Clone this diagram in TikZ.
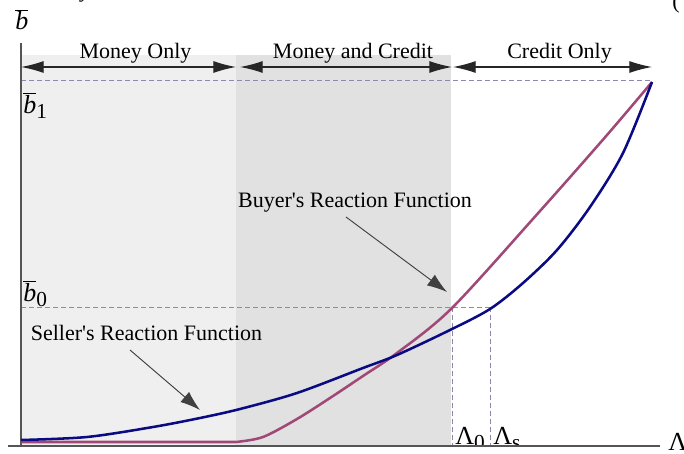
\documentclass[tikz,border=0pt]{standalone}
\usepackage{fontspec}
\setmainfont{Liberation Serif}
\usetikzlibrary{arrows.meta}

\definecolor{buyer}{HTML}{A04878}
\definecolor{seller}{HTML}{0A0A82}
\definecolor{zoneA}{HTML}{EFEFEF}
\definecolor{zoneB}{HTML}{E1E1E1}
\definecolor{guidec}{HTML}{8A8AAE}
\definecolor{axisc}{HTML}{555555}

% barred italic b and a lowered subscript
\newcommand\barb{$\overline{\mbox{\itshape b}}$}
\newcommand\lowsub[1]{\raisebox{-0.22em}{\fontsize{16}{16}\selectfont #1}}

\begin{document}
\begin{tikzpicture}[x=0.75pt,y=-0.75pt,
  lbl/.style={font=\fontsize{16.5}{20}\selectfont, inner sep=0pt, anchor=base},
  sym/.style={font=\fontsize{19.5}{22}\selectfont, inner sep=0pt, anchor=base west},
  span/.style={draw=black!85, line width=0.8pt,
    {Latex[length=17pt,width=9pt]}-{Latex[length=17pt,width=9pt]}},
  pointer/.style={draw=black!75, line width=0.7pt, -{Latex[length=15pt,width=10pt]}},
  guide/.style={draw=guidec, line width=0.75pt, dash pattern=on 3.6pt off 2.4pt},
  axis/.style={draw=axisc, line width=1.1pt},
  rcurve/.style={line width=1.9pt, line join=round}]
\useasboundingbox (0,0) rectangle (684,453);
\clip (0,0) rectangle (684,453);

% regimes
\fill[zoneA] (21,55) rectangle (236,446);
\fill[zoneB] (236,55) rectangle (451,446);

% reference levels
\coordinate (b1l) at (21,80);
\coordinate (b1r) at (652,80);
\coordinate (b0l) at (21,307);
\coordinate (b0r) at (490,307);
\coordinate (l0t) at (452,307);
\coordinate (l0b) at (452,446);
\coordinate (lst) at (490,307);
\coordinate (lsb) at (490,446);
\draw[guide] (b1l) -- (b1r);
\draw[guide] (b0l) -- (b0r);
\draw[guide] (l0t) -- (l0b);
\draw[guide] (lst) -- (lsb);

% axes
\coordinate (ytop) at (21,43);
\coordinate (ybot) at (21,446);
\coordinate (xl) at (8,446);
\coordinate (xr) at (660,446);
\draw[axis] (ytop) -- (ybot);
\draw[axis] (xl) -- (xr);

% reaction functions
\draw[rcurve, buyer] (21,442) -- (236,442)
  plot[smooth] coordinates {(236,442) (263,437) (297,419) (330,398) (363,376)
    (397,353) (452,308) (540,211) (607,135) (652,82)};
\draw[rcurve, seller] plot[smooth] coordinates {(21,440) (87,437) (153,427)
  (200,418) (240,409) (297,393) (363,368) (397,355) (450,330) (490,309) (523,283)
  (557,250) (590,207) (623,153) (652,82)};

% regime spans
\coordinate (m0) at (21,67);  \coordinate (m1) at (236,67);
\coordinate (c0) at (240,67); \coordinate (c1) at (452,67);
\coordinate (k0) at (453,67); \coordinate (k1) at (652,67);
\draw[span] (m0) -- (m1);
\draw[span] (c0) -- (c1);
\draw[span] (k0) -- (k1);
\node[lbl] (money) at (135.5,59) {Money Only};
\node[lbl] (both) at (353,59) {Money and Credit};
\node[lbl] (credit) at (559.5,59) {Credit Only};

% curve labels
\node[lbl] (buyl) at (355,207) {Buyer\textquotesingle s Reaction Function};
\node[lbl] (selll) at (146.5,340) {Seller\textquotesingle s Reaction Function};
\coordinate (buyt) at (447,292);
\coordinate (sellt) at (200,410);
\draw[pointer] (346,217) -- (buyt);
\draw[pointer] (130,350) -- (sellt);

% axis symbols
\node[sym] (bax) at (15,30) {\barb};
\node[sym] (bone) at (23,113) {\barb\lowsub{1}};
\node[sym] (bzero) at (23,301) {\barb\lowsub{0}};
\begin{scope}
  \clip (440,380) rectangle (540,444.5);
  \node[sym] (lz) at (455,444) {Λ\lowsub{0}};
  \node[sym] (ls) at (493,444) {Λ\lowsub{s}};
\end{scope}
\node[sym] (lax) at (668,450) {Λ};

% cut-off text at the top edge
\node[lbl, font=\fontsize{16.5}{20}\itshape] (ytail) at (86,-2) {y};
\node[lbl] (paren) at (676,9) {(};
\end{tikzpicture}
\end{document}
